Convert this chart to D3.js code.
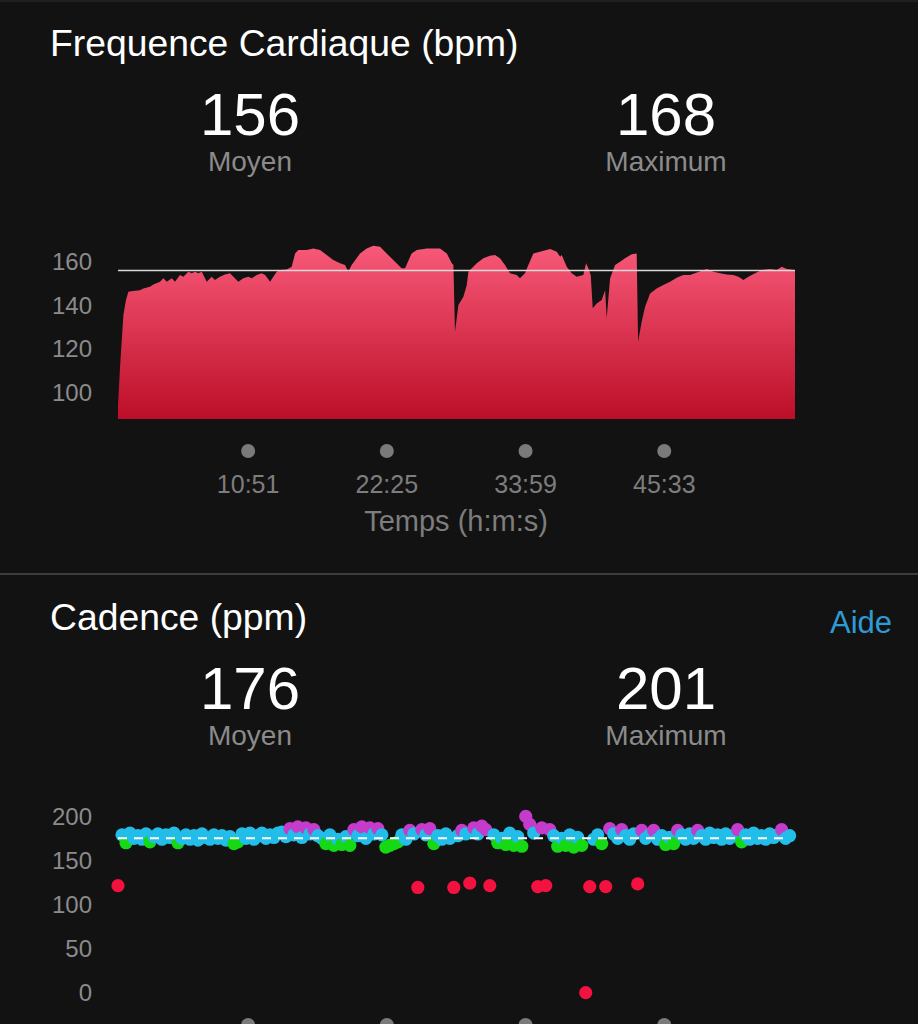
<!DOCTYPE html>
<html><head><meta charset="utf-8">
<script src="https://cdn.jsdelivr.net/npm/d3@7"></script>
<style>
html,body{margin:0;padding:0;background:#121212;}
svg{display:block;}
text{font-family:"Liberation Sans", Arial, sans-serif;}
</style></head><body>
<svg id="c" width="918" height="1024"></svg>
<script>
// ---- Heart rate (seconds, bpm) ----
const hrTime = [0,10,27,40,52,75,110,127,160,177,210,227,244,269,285,310,327,352,369,385,402,419,444,469,485,510,535,560,585,602,627,652,669,694,719,736,761,777,794,811,844,869,886,902,944,977,1011,1044,1077,1111,1136,1152,1169,1211,1244,1277,1311,1344,1386,1419,1436,1469,1495,1545,1611,1645,1670,1678,1686,1703,1728,1745,1753,1770,1795,1828,1861,1886,1911,1936,1961,1995,2011,2036,2053,2078,2111,2162,2195,2212,2220,2245,2270,2295,2328,2342,2353,2365,2375,2395,2420,2437,2445,2462,2487,2512,2537,2570,2595,2602,2620,2637,2662,2695,2728,2762,2795,2828,2862,2896,2946,2979,3012,3046,3079,3104,3129,3154,3187,3221,3262,3296,3321,3346,3379,3387];
const hrBpm = [94.4,111.3,135.6,142.5,146.3,146.6,147.0,147.8,148.5,149.6,150.8,152.4,150.8,152.4,150.8,153.9,153.1,155.4,154.7,155.4,154.7,155.4,150.8,153.1,151.6,153.1,154.2,154.7,152.4,150.8,152.4,153.1,152.4,153.9,154.7,153.9,150.8,153.1,155.4,156.2,156.5,157.7,163.8,165.4,165.4,166.1,165.4,163.1,160.8,159.3,158.5,155.4,158.5,163.8,166.1,167.3,166.9,163.8,160.0,157.0,157.0,163.8,165.4,166.1,166.1,163.8,159.3,158.5,127.9,140.2,144.0,149.3,155.4,157.0,159.3,161.6,162.7,163.1,161.6,158.5,154.7,153.9,152.4,154.7,158.5,163.8,164.6,165.8,164.6,162.3,163.1,157.7,154.7,153.1,153.9,159.3,157.0,153.9,138.7,140.9,142.5,147.0,134.1,152.4,158.5,160.0,161.6,163.4,163.8,123.4,132.5,139.4,145.5,147.8,149.3,150.8,152.7,153.9,153.9,155.1,156.7,155.4,154.7,154.2,153.9,153.1,151.6,153.1,154.7,156.2,156.7,156.2,157.7,156.7,156.2,156.0];
const hrAverage = 156;
const hrMaximum = 168;
const hrTicks = [100,120,140,160];
const timeTicks = [651,1345,2039,2733];
const totalSeconds = 3387;

// ---- Cadence (one sample every cadStep seconds) ----
const cadStep = 20;
const cadValues = [122,180,171,182,176,179,175,181,172,178,181,175,180,177,182,171,176,180,175,179,174,181,177,175,180,176,179,174,178,170,172,181,176,182,175,179,182,176,180,177,182,183,178,187,180,189,177,188,181,186,179,176,170,180,168,175,169,178,168,186,179,189,176,188,181,187,180,166,168,170,172,180,175,185,181,120,186,180,187,170,179,175,181,176,120,179,185,181,125,188,181,190,186,122,180,171,176,169,182,168,178,167,201,192,182,121,188,122,186,179,167,176,168,180,166,177,168,0,121,175,180,170,121,187,181,176,186,179,175,181,124,185,176,180,185,175,179,169,177,170,185,180,175,181,176,185,179,175,182,177,180,175,181,176,179,186,172,180,175,182,176,179,175,181,177,180,186,176,179];
const cadAverage = 176;
const cadMaximum = 201;
const cadTicks = [0,50,100,150,200];
const cadZoneLimits = [153,164,174,184];
const cadZoneColors = ["#f3123f","#ff9a1f","#16d916","#22bde9","#c53bcb"];

const svg = d3.select("#c");
const W = 918, H = 1024;
svg.append("rect").attr("width",W).attr("height",H).attr("fill","#121212");
svg.append("rect").attr("width",W).attr("height",2).attr("fill","#1f1f1f");

const x = d3.scaleLinear().domain([0,totalSeconds]).range([118,795]);
const yHR = d3.scaleLinear().domain([88,168]).range([418.9,244.3]);
const yCad = d3.scaleLinear().domain([0,200]).range([992.7,817.3]);
const fmtTime = s => Math.floor(s/60)+":"+String(s%60).padStart(2,"0");

function header(top, title, avg, max, withHelp){
  svg.append("text").attr("x",50).attr("y",top).attr("fill","#ffffff")
    .attr("font-size",37.3).text(title);
  if(withHelp){
    svg.append("text").attr("x",892).attr("y",top+3).attr("text-anchor","end")
      .attr("fill","#2f9bd6").attr("font-size",31).text("Aide");
  }
  const cols = [{c:250,v:avg,l:"Moyen"},{c:666,v:max,l:"Maximum"}];
  cols.forEach(o=>{
    svg.append("text").attr("x",o.c).attr("y",top+79).attr("text-anchor","middle")
      .attr("fill","#ffffff").attr("font-size",60).text(o.v);
    svg.append("text").attr("x",o.c).attr("y",top+115).attr("text-anchor","middle")
      .attr("fill","#8b8b8b").attr("font-size",28).text(o.l);
  });
}

// ===== Heart rate section =====
header(56,"Frequence Cardiaque (bpm)",hrAverage,hrMaximum,false);

const defs = svg.append("defs");
const grad = defs.append("linearGradient").attr("id","hrGrad")
  .attr("gradientUnits","userSpaceOnUse").attr("x1",0).attr("x2",0)
  .attr("y1",yHR(168)).attr("y2",yHR(88));
grad.append("stop").attr("offset","0%").attr("stop-color","#f85a79");
grad.append("stop").attr("offset","100%").attr("stop-color","#bc0e28");

const hrData = hrTime.map((t,i)=>({t, v:hrBpm[i]}));
const area = d3.area().x(d=>x(d.t)).y0(yHR(88)).y1(d=>yHR(d.v));
svg.append("path").datum(hrData).attr("d",area).attr("fill","url(#hrGrad)");

svg.append("line").attr("x1",x(0)).attr("x2",x(totalSeconds))
  .attr("y1",yHR(hrAverage)).attr("y2",yHR(hrAverage))
  .attr("stroke","#d9d9d9").attr("stroke-width",1.6);

const hrAxis = svg.append("g").attr("transform","translate(92,0)")
  .call(d3.axisLeft(yHR).tickValues(hrTicks).tickSize(0).tickPadding(0));
hrAxis.select(".domain").remove();
hrAxis.selectAll("text").attr("fill","#8b8b8b").attr("font-size",24)
  .attr("font-family","Liberation Sans, Arial, sans-serif");

svg.append("g").selectAll("circle").data(timeTicks).join("circle")
  .attr("cx",d=>x(d)).attr("cy",451).attr("r",7).attr("fill","#7a7a7a");
svg.append("g").selectAll("text").data(timeTicks).join("text")
  .attr("x",d=>x(d)).attr("y",493).attr("text-anchor","middle")
  .attr("fill","#7d7d7d").attr("font-size",25).text(fmtTime);
svg.append("text").attr("x",456).attr("y",531).attr("text-anchor","middle")
  .attr("fill","#7d7d7d").attr("font-size",29).text("Temps (h:m:s)");

svg.append("rect").attr("x",0).attr("y",573).attr("width",W).attr("height",2).attr("fill","#3c3c3c");

// ===== Cadence section =====
header(630,"Cadence (ppm)",cadAverage,cadMaximum,true);

const cadAxis = svg.append("g").attr("transform","translate(92,0)")
  .call(d3.axisLeft(yCad).tickValues(cadTicks).tickSize(0).tickPadding(0));
cadAxis.select(".domain").remove();
cadAxis.selectAll("text").attr("fill","#8b8b8b").attr("font-size",24)
  .attr("font-family","Liberation Sans, Arial, sans-serif");

const zone = d3.scaleThreshold().domain(cadZoneLimits).range(cadZoneColors);
const cadData = cadValues.map((v,i)=>({t:i*cadStep, v}));
svg.append("g").selectAll("circle").data(cadData).join("circle")
  .attr("cx",d=>x(d.t)).attr("cy",d=>yCad(d.v)).attr("r",6.6)
  .attr("fill",d=>zone(d.v));

svg.append("line").attr("x1",x(0)).attr("x2",x(cadData[cadData.length-1].t))
  .attr("y1",yCad(cadAverage)).attr("y2",yCad(cadAverage))
  .attr("stroke","#ffffff").attr("stroke-width",2).attr("stroke-dasharray","9,7");

svg.append("g").selectAll("circle").data(timeTicks).join("circle")
  .attr("cx",d=>x(d)).attr("cy",1025).attr("r",7).attr("fill","#7a7a7a");
</script>
</body></html>
